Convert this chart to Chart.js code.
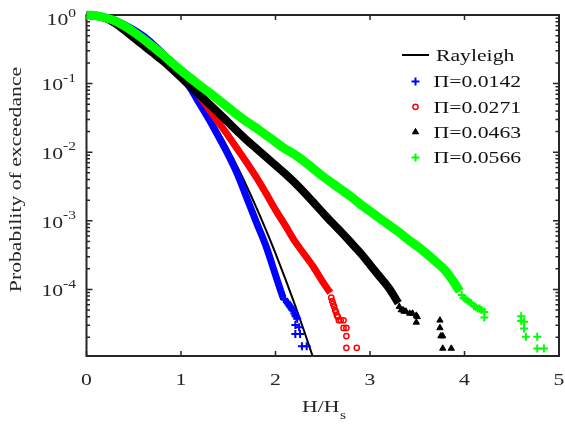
<!DOCTYPE html>
<html><head><meta charset="utf-8">
<script src="https://cdn.jsdelivr.net/npm/chart.js@4.4.0/dist/chart.umd.min.js"></script>
<style>html,body{margin:0;padding:0;background:#fff;}canvas{display:block;}</style>
</head><body>
<canvas id="c" width="565" height="426"></canvas>
<script>
// ---------- data ----------
const xTickValues = [0, 1, 2, 3, 4, 5];
const yMin = 1.07e-5, yMax = 1;
const xLabelMain = 'H/H', xLabelSub = 's';
const yLabel = 'Probability of exceedance';
const rayleighLabel = 'Rayleigh';
const seriesLabels = ['\u03A0=0.0142', '\u03A0=0.0271', '\u03A0=0.0463', '\u03A0=0.0566'];

const hRay = [0,0.1,0.2,0.3,0.4,0.5,0.6,0.7,0.8,0.9,1.0,1.1,1.2,1.3,1.4,1.5,1.6,1.7,1.8,1.9,2.0,2.1,2.2,2.3,2.4];
const pRay = [1,0.9802,0.9231,0.8353,0.7261,0.6065,0.4868,0.3753,0.2780,0.1979,0.1353,0.08892,0.05613,0.03405,0.01984,0.01111,0.005976,0.003089,0.001534,0.0007318,0.0003355,0.0001477,6.251e-5,2.540e-5,9.940e-6];

// Pi = 0.0142 (blue)
const hBlue = [0,0.1,0.2,0.3,0.4,0.5,0.6,0.7,0.8,0.9,1.0,1.1,1.2,1.3,1.4,1.5,1.6,1.7,1.8,1.9,2.0,2.05,2.08];
const pBlue = [1,0.9886,0.9333,0.8414,0.7244,0.6095,0.4955,0.3802,0.2818,0.1995,0.1349,0.08511,0.05012,0.02951,0.01660,0.009120,0.004677,0.002089,0.0009333,0.0004266,0.0001622,0.0001,7.586e-5];
const hBlueTail = [2.09,2.10,2.12,2.13,2.14,2.15,2.16,2.17,2.18,2.19,2.20,2.21,2.22,2.23,2.21,2.25,2.21,2.26,2.28,2.33];
const pBlueTail = [7.24e-5,7.08e-5,6.61e-5,6.31e-5,6.03e-5,5.75e-5,5.50e-5,5.25e-5,5.01e-5,4.90e-5,4.47e-5,4.17e-5,3.98e-5,3.72e-5,3.02e-5,2.82e-5,2.24e-5,2.24e-5,1.48e-5,1.48e-5];

// Pi = 0.0271 (red)
const hRed = [0,0.1,0.2,0.3,0.4,0.5,0.6,0.7,0.8,0.9,1.0,1.1,1.2,1.3,1.4,1.5,1.6,1.7,1.8,1.9,2.0,2.1,2.2,2.3,2.4,2.5,2.58];
const pRed = [1,0.98,0.915,0.83,0.70,0.57,0.455,0.355,0.276,0.209,0.150,0.1,0.06457,0.04169,0.02692,0.01738,0.01096,0.006918,0.004266,0.002512,0.001445,0.000871,0.0005129,0.0003311,0.0002138,0.0001288,8.913e-5];
const hRedTail = [2.59,2.60,2.61,2.62,2.63,2.64,2.65,2.66,2.67,2.69,2.72,2.72,2.75,2.75,2.75,2.86];
const pRedTail = [7.59e-5,6.76e-5,6.17e-5,5.62e-5,5.01e-5,4.68e-5,4.17e-5,3.98e-5,3.55e-5,3.55e-5,3.55e-5,2.75e-5,2.75e-5,2.09e-5,1.41e-5,1.41e-5];

// Pi = 0.0463 (black)
const hBlack = [0,0.1,0.2,0.3,0.4,0.5,0.6,0.7,0.8,0.9,1.0,1.1,1.2,1.3,1.4,1.5,1.6,1.7,1.8,1.9,2.0,2.1,2.2,2.3,2.4,2.5,2.6,2.7,2.8,2.9,3.0,3.1,3.2,3.3];
const pBlack = [1,0.9772,0.9016,0.7586,0.6026,0.4677,0.3631,0.2818,0.2188,0.1660,0.1230,0.09120,0.06761,0.05012,0.03715,0.02723,0.01995,0.01479,0.01122,0.008511,0.006457,0.004898,0.003631,0.002630,0.001862,0.001318,0.0009333,0.0006761,0.0004786,0.0003388,0.0002291,0.0001549,0.0001047,6.310e-5];
const hBlackTail = [3.31,3.33,3.35,3.36,3.38,3.42,3.45,3.49,3.50,3.49,3.74,3.74,3.75,3.77,3.77,3.86];
const pBlackTail = [5.62e-5,5.01e-5,5.01e-5,4.79e-5,4.79e-5,4.47e-5,4.47e-5,4.17e-5,3.98e-5,3.31e-5,3.55e-5,2.75e-5,2.09e-5,2.09e-5,1.38e-5,1.38e-5];

// Pi = 0.0566 (green)
const hGreen = [0,0.1,0.2,0.3,0.4,0.5,0.6,0.7,0.8,0.9,1.0,1.1,1.2,1.3,1.4,1.5,1.6,1.7,1.8,1.9,2.0,2.1,2.2,2.3,2.4,2.5,2.6,2.7,2.8,2.9,3.0,3.1,3.2,3.3,3.4,3.5,3.6,3.7,3.8,3.9,3.95];
const pGreen = [1,0.9772,0.9120,0.8222,0.6918,0.5623,0.4467,0.3467,0.2692,0.2042,0.1549,0.1202,0.09333,0.07413,0.05754,0.04467,0.03467,0.02754,0.02239,0.01778,0.01413,0.01122,0.009333,0.007413,0.005754,0.004467,0.003548,0.002818,0.002239,0.001738,0.001380,0.001096,0.0008710,0.0006918,0.0005370,0.0004266,0.0003311,0.0002512,0.0001862,0.0001202,9.333e-5];
const hGreenTail = [3.97,3.99,4.01,4.03,4.05,4.07,4.10,4.12,4.14,4.16,4.18,4.21,4.21,4.60,4.60,4.63,4.63,4.65,4.77,4.77,4.84];
const pGreenTail = [8.32e-5,7.586e-5,7.24e-5,6.918e-5,6.61e-5,6.310e-5,5.754e-5,5.50e-5,5.248e-5,5.25e-5,5.01e-5,4.677e-5,3.890e-5,4.074e-5,3.467e-5,3.388e-5,2.692e-5,2.042e-5,2.042e-5,1.380e-5,1.380e-5];

// ---------- styling ----------
const COLORS = ['#0000ff', '#ff0000', '#000000', '#00ff00'];
const TEXT = '#262626';
const FONT = '"Liberation Serif", "Times New Roman", serif';
const SX = 1.24;   // glyphs in the reference are wider than Times

const pts = (xs, ys) => xs.map((x, i) => ({x: x, y: ys[i]}));

const markerSpec = [
  {style: 'cross', r: 4, lw: 2},
  {style: 'circle', r: 2.6, lw: 1.5},
  {style: 'triangle', r: 3.6, lw: 1},
  {style: 'cross', r: 4, lw: 2}
];
const bandWidth = [7, 7, 8, 9];
const bands = [[hBlue,pBlue],[hRed,pRed],[hBlack,pBlack],[hGreen,pGreen]];
const tails = [[hBlueTail,pBlueTail],[hRedTail,pRedTail],[hBlackTail,pBlackTail],[hGreenTail,pGreenTail]];

const datasets = [{
  label: rayleighLabel, data: pts(hRay, pRay), showLine: true, pointRadius: 0,
  borderColor: '#000', borderWidth: 2, cubicInterpolationMode: 'monotone', order: 10
}];
for (let i = 0; i < 4; i++) {
  datasets.push({
    label: seriesLabels[i] + ' band', data: pts(bands[i][0], bands[i][1]), showLine: true,
    pointRadius: 0, borderColor: COLORS[i], borderWidth: bandWidth[i],
    cubicInterpolationMode: 'monotone', borderJoinStyle: 'round', borderCapStyle: 'butt',
    clip: false, order: 8 - 2 * i
  });
  datasets.push({
    label: seriesLabels[i], data: pts(tails[i][0], tails[i][1]), showLine: false,
    pointStyle: markerSpec[i].style, pointRadius: markerSpec[i].r,
    pointBorderWidth: markerSpec[i].lw, borderColor: COLORS[i], pointBorderColor: COLORS[i],
    pointBackgroundColor: i === 1 ? 'rgba(0,0,0,0)' : COLORS[i], backgroundColor: COLORS[i],
    clip: false, order: 7 - 2 * i
  });
}

function sText(ctx, str, x, y, size, align) {
  ctx.save();
  ctx.font = size + 'px ' + FONT;
  const w = ctx.measureText(str).width * SX;
  const x0 = align === 'center' ? x - w / 2 : (align === 'right' ? x - w : x);
  ctx.translate(x0, y);
  ctx.scale(SX, 1);
  ctx.textAlign = 'left';
  ctx.textBaseline = 'alphabetic';
  ctx.fillText(str, 0, 0);
  ctx.restore();
  return w;
}
function textWidth(ctx, str, size) {
  ctx.save(); ctx.font = size + 'px ' + FONT;
  const w = ctx.measureText(str).width * SX; ctx.restore(); return w;
}
function marker(ctx, i, x, y) {
  const m = markerSpec[i];
  ctx.save();
  ctx.strokeStyle = COLORS[i]; ctx.fillStyle = COLORS[i]; ctx.lineWidth = m.lw;
  ctx.beginPath();
  if (m.style === 'cross') {
    ctx.moveTo(x - m.r, y); ctx.lineTo(x + m.r, y);
    ctx.moveTo(x, y - m.r); ctx.lineTo(x, y + m.r); ctx.stroke();
  } else if (m.style === 'circle') {
    ctx.arc(x, y, m.r, 0, Math.PI * 2); ctx.stroke();
  } else {
    const r = m.r;
    ctx.moveTo(x, y - r); ctx.lineTo(x + r * 0.866, y + r * 0.5); ctx.lineTo(x - r * 0.866, y + r * 0.5);
    ctx.closePath(); ctx.fill(); ctx.stroke();
  }
  ctx.restore();
}

const axesPlugin = {
  id: 'matlabAxes',
  beforeDatasetsDraw(chart) {
    const {ctx, chartArea: a} = chart;
    const xs = chart.scales.x, ys = chart.scales.y;
    ctx.save();
    ctx.strokeStyle = TEXT;
    ctx.lineWidth = 1.5;
    ctx.beginPath();
    ys.ticks.forEach(t => {
      const py = ys.getPixelForValue(t.value);
      const len = t.major ? 6 : 3.5;
      ctx.moveTo(a.left, py); ctx.lineTo(a.left + len, py);
      ctx.moveTo(a.right, py); ctx.lineTo(a.right - len, py);
    });
    xs.ticks.forEach(t => {
      const px = xs.getPixelForValue(t.value);
      ctx.moveTo(px, a.bottom); ctx.lineTo(px, a.bottom - 5);
      ctx.moveTo(px, a.top); ctx.lineTo(px, a.top + 5);
    });
    ctx.stroke();
    ctx.lineWidth = 2;
    ctx.strokeRect(a.left, a.top, a.right - a.left, a.bottom - a.top);
    ctx.restore();
  },
  afterDraw(chart) {
    const {ctx, chartArea: a} = chart;
    const xs = chart.scales.x, ys = chart.scales.y;
    ctx.save();
    ctx.fillStyle = TEXT;
    // x tick labels
    xs.ticks.forEach(t => {
      sText(ctx, String(t.value), xs.getPixelForValue(t.value), 384.5, 17.5, 'center');
    });
    // y tick labels 10^n
    ys.ticks.filter(t => t.major).forEach(t => {
      const py = ys.getPixelForValue(t.value);
      const e = Math.round(Math.log10(t.value));
      const sup = String(e);
      const wSup = textWidth(ctx, sup, 12.5);
      const w10 = textWidth(ctx, '10', 17.5);
      const right = 76;
      let base = py + 6.7;
      if (base - 16.5 < 8.5) base = 8.5 + 16.5;
      sText(ctx, '10', right - wSup - w10, base, 17.5, 'left');
      sText(ctx, sup, right - wSup, base - 8.5, 12.5, 'left');
    });
    // x title with subscript
    const w1 = textWidth(ctx, xLabelMain, 17.5), w2 = textWidth(ctx, xLabelSub, 12.5);
    const cx = (a.left + a.right) / 2 + 1;
    const sx = cx - (w1 + w2) / 2;
    sText(ctx, xLabelMain, sx, 411.5, 17.5, 'left');
    sText(ctx, xLabelSub, sx + w1 + 0.5, 418.5, 12.5, 'left');
    // y title
    ctx.save();
    ctx.translate(20.5, (a.top + a.bottom) / 2 - 6);
    ctx.rotate(-Math.PI / 2);
    ctx.scale(SX, 1);
    ctx.font = '17.5px ' + FONT;
    ctx.textAlign = 'center';
    ctx.textBaseline = 'alphabetic';
    ctx.fillText(yLabel, 0, 0);
    ctx.restore();
    // legend
    const rows = [55, 81.5, 106.8, 132, 157.5];
    ctx.fillStyle = '#111';
    ctx.strokeStyle = '#000'; ctx.lineWidth = 2;
    ctx.beginPath(); ctx.moveTo(402, rows[0]); ctx.lineTo(429, rows[0]); ctx.stroke();
    sText(ctx, rayleighLabel, 436, rows[0] + 5.8, 17.5, 'left');
    for (let i = 0; i < 4; i++) {
      marker(ctx, i, 415.5, rows[i + 1]);
      ctx.fillStyle = '#111';
      sText(ctx, seriesLabels[i], 433.5, rows[i + 1] + 5.8, 17.5, 'left');
    }
    ctx.restore();
  }
};

new Chart(document.getElementById('c'), {
  type: 'scatter',
  data: {datasets: datasets},
  options: {
    responsive: false, animation: false, devicePixelRatio: 1,
    layout: {padding: {top: 15, right: 3, left: 0, bottom: 0}},
    plugins: {legend: {display: false}, tooltip: {enabled: false}},
    elements: {point: {hoverRadius: 0}},
    scales: {
      x: {
        type: 'linear', min: 0, max: 5,
        afterBuildTicks: s => { s.ticks = xTickValues.map(v => ({value: v})); },
        ticks: {display: false}, grid: {display: false}, border: {display: false},
        afterFit: s => { s.height = 70; }
      },
      y: {
        type: 'logarithmic', min: yMin, max: yMax,
        afterBuildTicks: s => {
          const t = [];
          for (let e = -5; e <= 0; e++) {
            for (let m = 1; m <= 9; m++) {
              const v = m * Math.pow(10, e);
              if (v >= yMin * 0.999 && v <= yMax * 1.0001) t.push({value: v, major: m === 1});
            }
          }
          s.ticks = t;
        },
        ticks: {display: false}, grid: {display: false}, border: {display: false},
        afterFit: s => { s.width = 86.5; }
      }
    }
  },
  plugins: [axesPlugin]
});
</script>
</body></html>
